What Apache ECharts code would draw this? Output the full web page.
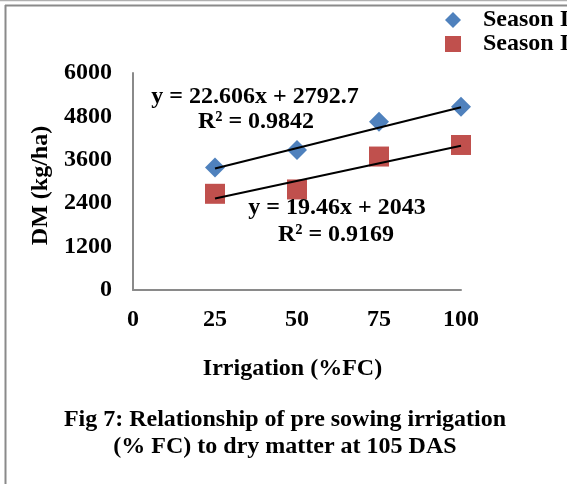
<!DOCTYPE html>
<html>
<head>
<meta charset="utf-8">
<script src="https://cdn.jsdelivr.net/npm/echarts@6/dist/echarts.min.js"></script>
<style>
  html, body { margin: 0; padding: 0; background: #ffffff; }
  #chart { width: 567px; height: 484px; }
</style>
</head>
<body>
<div id="chart"></div>
<script>
// Pre-sowing irrigation level (% field capacity)
const irrigation = [25, 50, 75, 100];
// Dry matter at 105 DAS (kg/ha)
const seasonI = [3390, 3870, 4650, 5070];
const seasonII = [2660, 2780, 3690, 4010];
const seriesNames = ['Season I', 'Season II'];
// Linear trend lines: y = slope * x + intercept
const trendSlope = [22.606, 19.46];
const trendIntercept = [2792.7, 2043];
const trendR2 = ['0.9842', '0.9169'];
// Axis ranges
const xTicks = [0, 25, 50, 75, 100];
const yTicks = [0, 1200, 2400, 3600, 4800, 6000];
const captionLines = [
  'Fig 7: Relationship of pre sowing irrigation',
  '(% FC) to dry matter at 105 DAS'
];

const FONT = '"Liberation Serif", "Times New Roman", serif';

function trendPoints(i) {
  const x0 = irrigation[0];
  const x1 = irrigation[irrigation.length - 1];
  return [
    [x0, trendSlope[i] * x0 + trendIntercept[i]],
    [x1, trendSlope[i] * x1 + trendIntercept[i]]
  ];
}

function eqText(i) {
  return 'y = ' + trendSlope[i] + 'x + ' + trendIntercept[i];
}

const chart = echarts.init(document.getElementById('chart'), null, { renderer: 'canvas' });

const textBase = { fontFamily: FONT, fontWeight: 'bold', fontSize: 24, fill: '#000' };

const option = {
  backgroundColor: '#ffffff',
  animation: false,
  grid: { left: 133, right: 106, top: 73, bottom: 194 },
  legend: {
    data: [
      { name: seriesNames[0], icon: 'diamond' },
      { name: seriesNames[1], icon: 'rect' }
    ],
    orient: 'vertical',
    left: 445,
    top: 8,
    padding: 0,
    itemGap: 0,
    itemWidth: 16,
    itemHeight: 16,
    textStyle: {
      fontFamily: FONT, fontWeight: 'bold', fontSize: 24, lineHeight: 24,
      color: '#000', padding: [0, 0, 0, 17]
    }
  },
  xAxis: {
    type: 'value',
    min: xTicks[0],
    max: xTicks[xTicks.length - 1],
    interval: xTicks[1] - xTicks[0],
    name: 'Irrigation (%FC)',
    nameLocation: 'middle',
    nameGap: 67,
    nameTextStyle: {
      fontFamily: FONT, fontWeight: 'bold', fontSize: 24, color: '#000',
      padding: [0, 9, 0, 0]
    },
    axisLine: { show: true, lineStyle: { color: '#8a8a8a', width: 2 } },
    axisTick: { show: false },
    splitLine: { show: false },
    axisLabel: {
      margin: 18,
      fontFamily: FONT, fontWeight: 'bold', fontSize: 24, color: '#000'
    }
  },
  yAxis: {
    type: 'value',
    min: yTicks[0],
    max: yTicks[yTicks.length - 1],
    interval: yTicks[1] - yTicks[0],
    name: 'DM (kg/ha)',
    nameLocation: 'middle',
    nameGap: 61,
    nameTextStyle: {
      fontFamily: FONT, fontWeight: 'bold', fontSize: 24, color: '#000',
      padding: [0, 8, 0, 0]
    },
    axisLine: { show: true, lineStyle: { color: '#8a8a8a', width: 2 } },
    axisTick: { show: false },
    splitLine: { show: false },
    axisLabel: {
      margin: 21,
      formatter: (v) => String(v),
      fontFamily: FONT, fontWeight: 'bold', fontSize: 24, color: '#000'
    }
  },
  series: [
    {
      name: seriesNames[0],
      type: 'scatter',
      symbol: 'diamond',
      symbolSize: 20,
      itemStyle: { color: '#4F81BD', opacity: 1 },
      data: irrigation.map((x, k) => [x, seasonI[k]]),
      z: 2
    },
    {
      name: seriesNames[1],
      type: 'scatter',
      symbol: 'rect',
      symbolSize: 20,
      itemStyle: { color: '#C0504D', opacity: 1 },
      data: irrigation.map((x, k) => [x, seasonII[k]]),
      z: 2
    },
    {
      name: 'trend I',
      type: 'line',
      data: trendPoints(0),
      showSymbol: false,
      lineStyle: { color: '#000', width: 2 },
      z: 3
    },
    {
      name: 'trend II',
      type: 'line',
      data: trendPoints(1),
      showSymbol: false,
      lineStyle: { color: '#000', width: 2 },
      z: 3
    }
  ],
  graphic: [
    // outer frame
    { type: 'line', shape: { x1: 0, y1: 0.5, x2: 567, y2: 0.5 }, style: { stroke: '#b0b0b0', lineWidth: 1.5 } },
    { type: 'line', shape: { x1: 5, y1: 5.5, x2: 567, y2: 5.5 }, style: { stroke: '#8a8a8a', lineWidth: 2 } },
    { type: 'line', shape: { x1: 5.5, y1: 5, x2: 5.5, y2: 484 }, style: { stroke: '#8a8a8a', lineWidth: 2 } },
    // trend line equations
    { type: 'text', x: 255, y: 97, style: Object.assign({ text: eqText(0), align: 'center', verticalAlign: 'middle' }, textBase), z: 10 },
    { type: 'text', x: 256, y: 122, style: Object.assign({ text: 'R² = ' + trendR2[0], align: 'center', verticalAlign: 'middle' }, textBase), z: 10 },
    { type: 'text', x: 337, y: 208, style: Object.assign({ text: eqText(1), align: 'center', verticalAlign: 'middle' }, textBase), z: 10 },
    { type: 'text', x: 336, y: 235, style: Object.assign({ text: 'R² = ' + trendR2[1], align: 'center', verticalAlign: 'middle' }, textBase), z: 10 },
    // caption
    { type: 'text', x: 285, y: 420, style: Object.assign({ text: captionLines[0], align: 'center', verticalAlign: 'middle' }, textBase) },
    { type: 'text', x: 285, y: 447, style: Object.assign({ text: captionLines[1], align: 'center', verticalAlign: 'middle' }, textBase) }
  ]
};

chart.setOption(option);
</script>
</body>
</html>
